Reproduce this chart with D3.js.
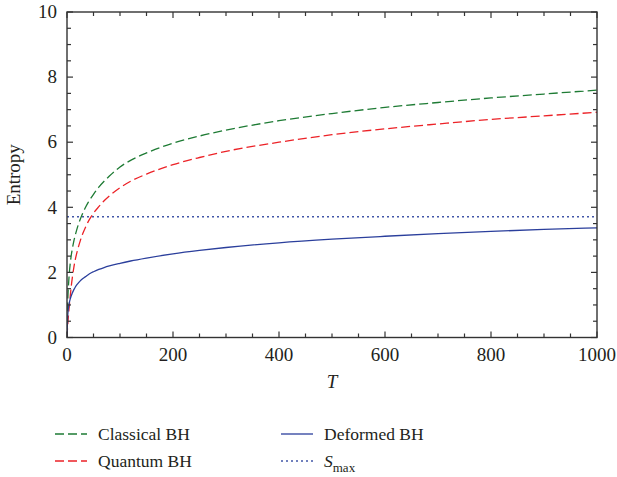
<!DOCTYPE html>
<html lang="en">

<head>
    <meta charset="UTF-8">
    <title>Entropy vs T</title>
    <script src="https://d3js.org/d3.v7.min.js"></script>
    <style>
        body { margin: 0; background: #fff; }
        svg text { font-family: "Liberation Serif", "DejaVu Serif", serif; fill: #231f20; }
    </style>
</head>

<body>
    <svg width="617" height="477"></svg>

<script>
    // values
    var temps = [0, 1, 2, 3, 4, 6, 8, 10, 13, 16, 20, 25, 30, 35, 40, 45, 50, 60, 70, 80, 100, 120, 150, 200, 250, 300, 400, 500, 600, 700, 800, 900, 1000];
    var classical = [0, 0.9, 1.36, 1.66, 1.9, 2.26, 2.52, 2.72, 2.97, 3.17, 3.4, 3.63, 3.83, 4.0, 4.15, 4.28, 4.4, 4.62, 4.8, 4.96, 5.24, 5.44, 5.67, 5.97, 6.19, 6.37, 6.66, 6.88, 7.07, 7.22, 7.36, 7.48, 7.6];
    var quantum = [0, 0.3, 0.52, 0.72, 0.9, 1.25, 1.57, 1.83, 2.16, 2.42, 2.69, 2.97, 3.2, 3.39, 3.56, 3.7, 3.82, 4.02, 4.2, 4.35, 4.6, 4.8, 5.02, 5.31, 5.53, 5.72, 6.0, 6.23, 6.41, 6.56, 6.7, 6.81, 6.92];
    var deformed = [0, 0.55, 0.8, 0.94, 1.04, 1.18, 1.28, 1.37, 1.47, 1.56, 1.65, 1.74, 1.81, 1.87, 1.93, 1.98, 2.02, 2.09, 2.15, 2.2, 2.28, 2.35, 2.44, 2.57, 2.675, 2.765, 2.91, 3.02, 3.11, 3.19, 3.26, 3.32, 3.37];
    var sMax = 3.71;
    var xTicks = [0, 200, 400, 600, 800, 1000];
    var yTicks = [0, 2, 4, 6, 8, 10];

    var svg = d3.select("svg"),
        plotLeft = 67, plotRight = 597, plotTop = 12, plotBottom = 337.5;

    var x = d3.scaleLinear().domain([0, 1000]).range([plotLeft, plotRight]);
    var y = d3.scaleLinear().domain([0, 10]).range([plotBottom, plotTop]);

    var series = [
        { name: "Classical BH", values: classical, color: "#1e7b34", dash: "9,4" },
        { name: "Quantum BH", values: quantum, color: "#ec2227", dash: "9,4" },
        { name: "Deformed BH", values: deformed, color: "#2b3f9c", dash: null }
    ];

    var line = d3.line()
        .x(function(d) { return x(d[0]); })
        .y(function(d) { return y(d[1]); })
        .curve(d3.curveMonotoneX);

    svg.append("defs").append("clipPath").attr("id", "plot")
        .append("rect")
        .attr("x", plotLeft).attr("y", plotTop)
        .attr("width", plotRight - plotLeft).attr("height", plotBottom - plotTop);

    var plot = svg.append("g").attr("clip-path", "url(#plot)");

    // S_max
    plot.append("line")
        .attr("x1", x(0)).attr("x2", x(1000))
        .attr("y1", y(sMax)).attr("y2", y(sMax))
        .attr("stroke", "#4257a8")
        .attr("stroke-width", 1.4)
        .attr("stroke-dasharray", "2,3");

    series.forEach(function(s) {
        plot.append("path")
            .datum(temps.map(function(t, i) { return [t, s.values[i]]; }))
            .attr("fill", "none")
            .attr("stroke", s.color)
            .attr("stroke-width", 1.3)
            .attr("stroke-dasharray", s.dash)
            .attr("d", line);
    });

    // frame with inward ticks on all four sides
    var axisColor = "#333";
    svg.append("rect")
        .attr("x", plotLeft).attr("y", plotTop)
        .attr("width", plotRight - plotLeft).attr("height", plotBottom - plotTop)
        .attr("fill", "none")
        .attr("stroke", axisColor)
        .attr("stroke-width", 1.4);

    var ticks = svg.append("g").attr("stroke", axisColor).attr("stroke-width", 1.2);

    x.ticks(20).forEach(function(t) {
        var len = t % 200 === 0 ? 6 : 4;
        ticks.append("line").attr("x1", x(t)).attr("x2", x(t)).attr("y1", plotBottom).attr("y2", plotBottom - len);
        ticks.append("line").attr("x1", x(t)).attr("x2", x(t)).attr("y1", plotTop).attr("y2", plotTop + len);
    });
    y.ticks(20).forEach(function(v) {
        var len = v % 2 === 0 ? 6 : 4;
        ticks.append("line").attr("x1", plotLeft).attr("x2", plotLeft + len).attr("y1", y(v)).attr("y2", y(v));
        ticks.append("line").attr("x1", plotRight).attr("x2", plotRight - len).attr("y1", y(v)).attr("y2", y(v));
    });

    svg.append("g").selectAll("text")
        .data(xTicks)
        .enter().append("text")
        .attr("x", function(d) { return x(d); })
        .attr("y", 361)
        .attr("text-anchor", "middle")
        .attr("font-size", 19)
        .text(function(d) { return d; });

    svg.append("g").selectAll("text")
        .data(yTicks)
        .enter().append("text")
        .attr("x", 57)
        .attr("y", function(d) { return y(d); })
        .attr("dy", "0.33em")
        .attr("text-anchor", "end")
        .attr("font-size", 19)
        .text(function(d) { return d; });

    svg.append("text")
        .attr("x", (plotLeft + plotRight) / 2)
        .attr("y", 388)
        .attr("text-anchor", "middle")
        .attr("font-size", 19)
        .attr("font-style", "italic")
        .text("T");

    svg.append("text")
        .attr("transform", "translate(20," + (plotTop + plotBottom) / 2 + ")rotate(-90)")
        .attr("text-anchor", "middle")
        .attr("font-size", 19)
        .text("Entropy");

    // legend
    var legendItems = [
        { label: "Classical BH", color: "#1e7b34", dash: "9,4", lx: 55, ly: 434 },
        { label: "Quantum BH", color: "#ec2227", dash: "9,4", lx: 55, ly: 461 },
        { label: "Deformed BH", color: "#2b3f9c", dash: null, lx: 281, ly: 434 },
        { label: "S", color: "#4257a8", dash: "2,3", lx: 281, ly: 461 }
    ];

    var legend = svg.append("g").selectAll("g")
        .data(legendItems)
        .enter().append("g")
        .attr("transform", function(d) { return "translate(" + d.lx + "," + d.ly + ")"; });

    legend.append("line")
        .attr("x2", 32)
        .attr("stroke", function(d) { return d.color; })
        .attr("stroke-width", 1.3)
        .attr("stroke-dasharray", function(d) { return d.dash; });

    var lt = legend.append("text")
        .attr("x", 43)
        .attr("y", 6)
        .attr("font-size", 17.5);

    lt.filter(function(d) { return d.label !== "S"; })
        .text(function(d) { return d.label; });

    var smaxText = lt.filter(function(d) { return d.label === "S"; });
    smaxText.append("tspan").attr("font-style", "italic").text("S");
    smaxText.append("tspan").attr("font-size", 13).attr("dy", 5).text("max");
</script>
</body>

</html>
